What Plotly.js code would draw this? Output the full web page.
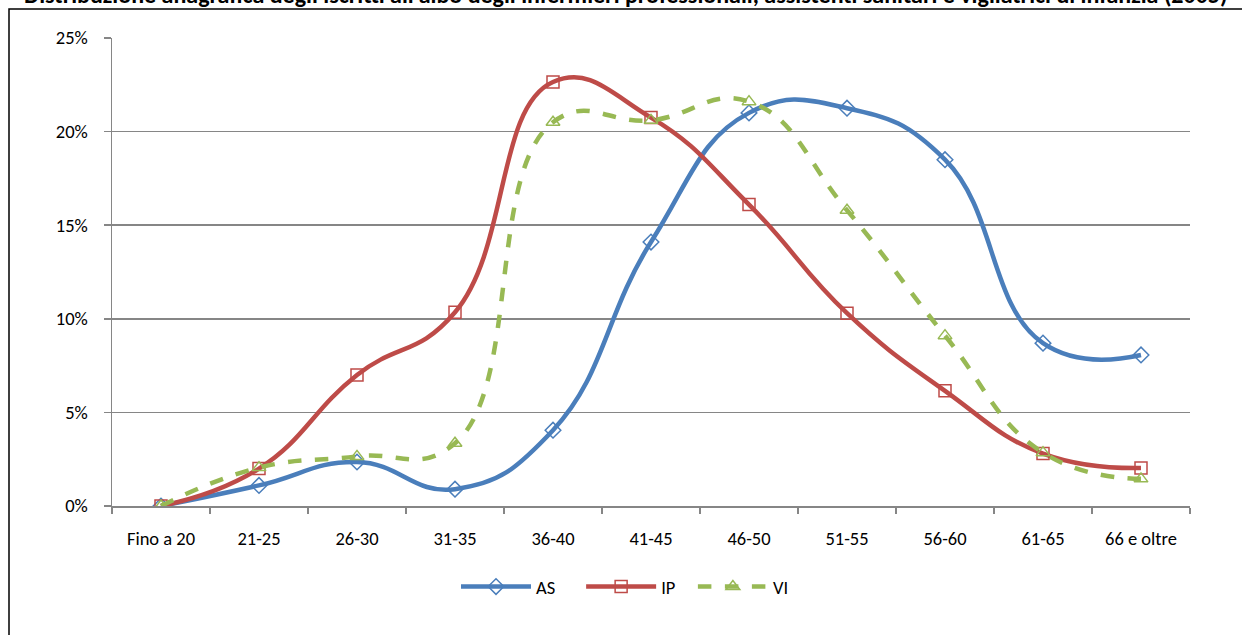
<!DOCTYPE html>
<html>
<head>
<meta charset="utf-8">
<script src="https://cdn.plot.ly/plotly-3.0.1.min.js"></script>
<style>html,body{margin:0;padding:0;background:#fff;}#chart{width:1242px;height:635px;}</style>
</head>
<body>
<div id="chart"></div>
<script>
const categories = ["Fino a 20","21-25","26-30","31-35","36-40","41-45","46-50","51-55","56-60","61-65","66 e oltre"];
const AS = [0.0, 1.1, 2.35, 0.9, 4.05, 14.1, 21.0, 21.25, 18.5, 8.7, 8.07];
const IP = [0.0, 2.0, 7.0, 10.35, 22.65, 20.75, 16.1, 10.3, 6.15, 2.8, 2.03];
const VI = [0.0, 2.05, 2.65, 3.35, 20.5, 20.6, 21.6, 15.8, 9.1, 2.85, 1.45];
const seriesNames = ["AS", "IP", "VI"];
const titleText = "Distribuzione anagrafica degli iscritti all'albo degli infermieri professionali, assistenti sanitari e vigilatrici di infanzia (2005)";

const font = "Carlito, 'Liberation Sans', sans-serif";
const nb = n => '\u00a0'.repeat(n);
function series(name, pad, y, color, symbol, dash) {
  return {
    type: 'scatter', mode: 'lines+markers', name: name + nb(pad), x: categories, y: y,
    line: {color: color, width: 4.5, shape: 'spline', smoothing: 1.3, dash: dash},
    marker: {symbol: symbol, size: 12, color: color, line: {color: color, width: 1.5}}
  };
}
const data = [
  series(seriesNames[0], 5, AS, '#4a7ebb', 'diamond-open', 'solid'),
  series(seriesNames[1], 3, IP, '#be4b48', 'square-open', 'solid'),
  series(seriesNames[2], 0, VI, '#98b954', 'triangle-up-open', 'dash')
];
const plotTop = 38, plotBottom = 506, plotLeft = 112, plotRight = 1190;
const ph = plotBottom - plotTop, pw = plotRight - plotLeft;
const layout = {
  width: 1242, height: 635,
  margin: {l: plotLeft, r: 1242 - plotRight, t: plotTop, b: 635 - plotBottom, pad: 0},
  paper_bgcolor: '#fff', plot_bgcolor: '#fff',
  font: {family: font, size: 18.5, color: '#000'},
  annotations: [{text: '<b>' + titleText + '</b>', xref: 'paper', yref: 'paper',
          x: (626 - plotLeft)/pw, xanchor: 'center', y: (plotBottom - 11)/ph, yanchor: 'bottom',
          showarrow: false, font: {family: font, size: 24, color: '#000'}}],
  xaxis: {type: 'category', range: [-0.5, 10.5], showgrid: false, zeroline: false,
          showline: true, linecolor: '#868686', linewidth: 1.5,
          ticks: 'outside', tickson: 'boundaries', ticklen: 6, tickcolor: '#868686', tickwidth: 1.5,
          ticklabelstandoff: 15,
          tickfont: {family: font, size: 18.5, color: '#000'}},
  yaxis: {range: [0, 25], dtick: 5, ticksuffix: '%', showgrid: true, gridcolor: '#868686', gridwidth: 1.5,
          zeroline: false, showline: true, linecolor: '#868686', linewidth: 1.5,
          ticks: 'outside', ticklen: 7, tickcolor: '#868686', tickwidth: 1.5,
          ticklabelstandoff: 12,
          tickfont: {family: font, size: 18.5, color: '#000'}},
  showlegend: true,
  legend: {orientation: 'h', x: (625 - plotLeft)/pw, xanchor: 'center', y: (plotBottom - 587)/ph, yanchor: 'middle',
           itemwidth: 70, font: {family: font, size: 18.5, color: '#000'}, bgcolor: 'rgba(0,0,0,0)'},
  shapes: [{type: 'rect', xref: 'paper', yref: 'paper',
            x0: (9 - plotLeft)/pw, x1: (1260 - plotLeft)/pw,
            y0: (plotBottom - 660)/ph, y1: (plotBottom - 9)/ph,
            line: {color: '#000', width: 1.5}, fillcolor: 'rgba(0,0,0,0)', layer: 'below'}]
};
Plotly.newPlot('chart', data, layout, {displayModeBar: false, staticPlot: true});
</script>
</body>
</html>
